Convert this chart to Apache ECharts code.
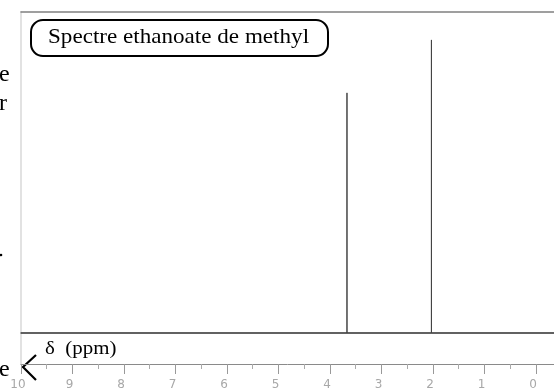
<!DOCTYPE html>
<html>
<head>
<meta charset="utf-8">
<script src="https://cdn.jsdelivr.net/npm/echarts@6/dist/echarts.min.js"></script>
<style>
  html, body { margin: 0; padding: 0; background: #fff; }
  #main { width: 554px; height: 389px; }
</style>
</head>
<body>
<div id="main"></div>
<script>
// pics du spectre RMN (ppm) et hauteur relative
var peakPpm = [3.67, 2.03];
var peakHeight = [74.8, 91.3];
var majorTicks = [10, 9, 8, 7, 6, 5, 4, 3, 2, 1, 0];
var minorTicks = [9.5, 8.5, 7.5, 6.5, 5.5, 4.5, 3.5, 2.5, 1.5, 0.5];

var ppmMin = -0.35, ppmMax = 10;
var yMin = -9.66, yMax = 100;

// spectre en batons : ligne de base + un trait par pic
var spectrum = [[ppmMax, 0]];
for (var i = 0; i < peakPpm.length; i++) {
  spectrum.push([peakPpm[i], 0]);
  spectrum.push([peakPpm[i], peakHeight[i]]);
  spectrum.push([peakPpm[i], 0]);
}
spectrum.push([ppmMin, 0]);

var serif = 'Liberation Serif';

var myChart = echarts.init(document.getElementById('main'), null, { renderer: 'canvas' });

var option = {
  backgroundColor: '#fff',
  animation: false,
  grid: { left: 21, right: 0, top: 12, bottom: 25, outerBoundsMode: 'none', containLabel: false },
  xAxis: [
    { // ligne de base (y = 0)
      type: 'value', min: ppmMin, max: ppmMax, inverse: true,
      axisLine: { onZero: true, lineStyle: { color: '#555', width: 1.5 } },
      axisTick: { show: false }, axisLabel: { show: false }, splitLine: { show: false }
    },
    { // echelle en ppm
      type: 'value', min: ppmMin, max: ppmMax, inverse: true, position: 'bottom',
      axisLine: { onZero: false, lineStyle: { color: '#8a8a8a', width: 1 } },
      axisTick: { show: true, length: 10, customValues: majorTicks, lineStyle: { color: '#999' } },
      axisLabel: {
        customValues: majorTicks, margin: 15, color: '#a8a8a8', fontSize: 12,
        fontFamily: 'DejaVu Sans', padding: [0, 6, 0, 0]
      },
      splitLine: { show: false }
    },
    { // petites graduations
      type: 'value', min: ppmMin, max: ppmMax, inverse: true, position: 'bottom',
      axisLine: { show: false, onZero: false },
      axisTick: { show: true, length: 5, customValues: minorTicks, lineStyle: { color: '#aaa' } },
      axisLabel: { show: false }, splitLine: { show: false }
    },
    { // cadre du haut
      type: 'value', min: ppmMin, max: ppmMax, inverse: true, position: 'top',
      axisLine: { onZero: false, lineStyle: { color: '#808080', width: 1.5 } },
      axisTick: { show: false }, axisLabel: { show: false }, splitLine: { show: false }
    }
  ],
  yAxis: {
    type: 'value', min: yMin, max: yMax,
    axisLine: { show: true, onZero: false, lineStyle: { color: '#e2e2e2', width: 2 } },
    axisTick: { show: false }, axisLabel: { show: false }, splitLine: { show: false }
  },
  series: [{
    type: 'line',
    xAxisIndex: 0,
    data: spectrum,
    showSymbol: false,
    lineStyle: { color: '#444', width: 1 }
  }],
  graphic: [
    {
      type: 'rect', left: 30, top: 19,
      shape: { width: 297, height: 36, r: 12 },
      style: { fill: '#fff', stroke: '#000', lineWidth: 2 }
    },
    {
      type: 'text', x: 48, y: 27, scaleX: 1.1,
      style: {
        text: 'Spectre ethanoate de methyl', fill: '#000',
        font: '21px ' + serif
      }
    },
    {
      type: 'text', x: 45, y: 340, scaleX: 1.1,
      style: { text: 'δ  (ppm)', fill: '#000', font: '19px ' + serif }
    },
    // fragments du texte voisin
    { type: 'text', left: -1, top: 63, style: { text: 'e', fill: '#000', font: '24px ' + serif } },
    { type: 'text', left: -1, top: 92, style: { text: 'r', fill: '#000', font: '24px ' + serif } },
    { type: 'circle', shape: { cx: 1, cy: 255, r: 1.3 }, style: { fill: '#000' } },
    { type: 'text', left: -1, top: 358, style: { text: 'e', fill: '#000', font: '24px ' + serif } },
    {
      type: 'polyline',
      shape: { points: [[36, 355], [23, 367], [36, 380]] },
      style: { stroke: '#000', lineWidth: 2.2, fill: null }
    }
  ]
};

myChart.setOption(option);
</script>
</body>
</html>
